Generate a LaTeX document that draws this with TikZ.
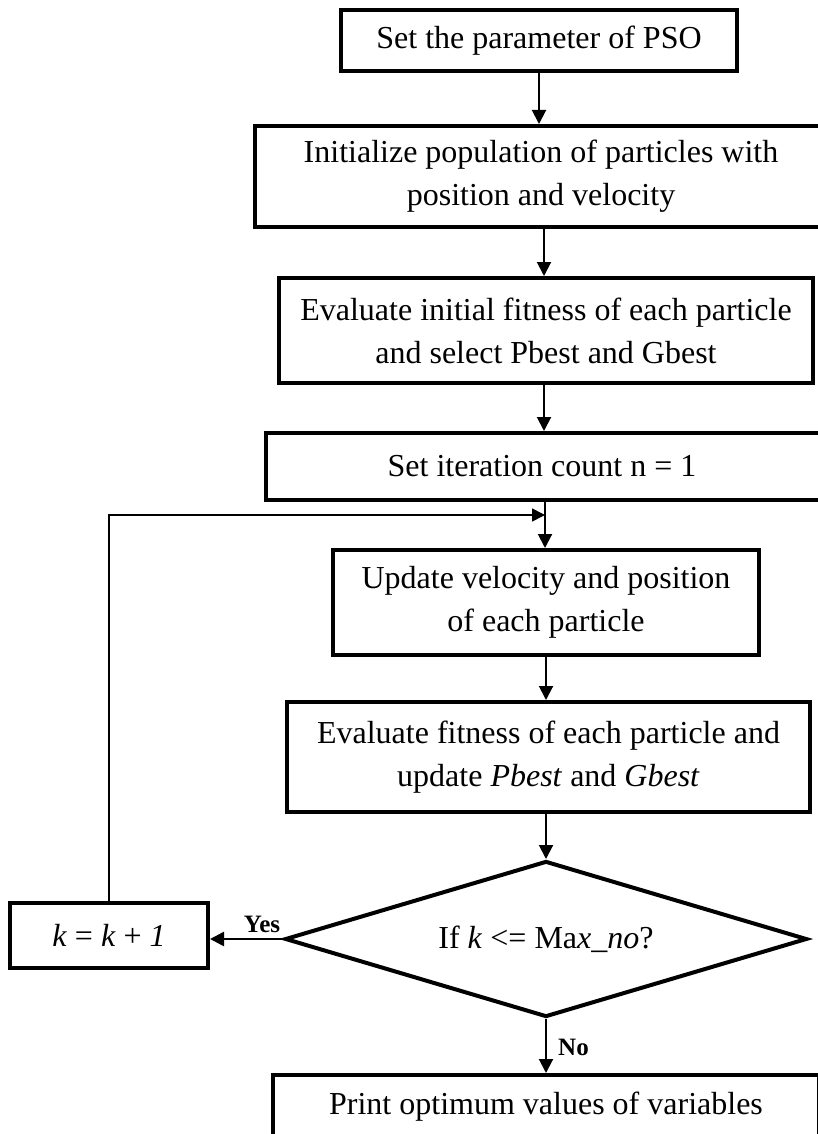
\documentclass[tikz,border=0pt]{standalone}
\usepackage{fontspec}
\setmainfont{Liberation Serif}
\usetikzlibrary{shapes.geometric,arrows.meta}
\begin{document}
\begin{tikzpicture}[x=1pt,y=-1pt,
  box/.style={draw, line width=4pt, align=center, inner sep=0pt, font=\fontsize{32}{43}\selectfont},
  dec/.style={draw, shape=diamond, aspect=3.346, line width=4pt, inner sep=0pt, font=\fontsize{32}{43}\selectfont},
  arr/.style={line width=2pt, -{Triangle[width=14pt,length=14pt]}},
  arrthin/.style={line width=1.6pt, -{Triangle[width=13pt,length=13pt]}},
  lab/.style={font=\fontsize{25}{28}\selectfont\bfseries, inner sep=0pt}]
\fill[white] (0,0) rectangle (817,1134);
\useasboundingbox (0,0) rectangle (817,1134);

\node[box, minimum width=396pt, minimum height=61pt] (b1) at (539,40.5) {Set the parameter of PSO};
\node[box, minimum width=572pt, minimum height=101pt] (b2) at (541,176.5) {Initialize population of particles with\\position and velocity};
\node[box, minimum width=534pt, minimum height=105pt] (b3) at (546,330.5) {Evaluate initial fitness of each particle\\and select Pbest and Gbest};
\node[box, minimum width=560pt, minimum height=67pt] (b4) at (546,466.5) {\hspace*{-8pt}Set iteration count n = 1};
\node[box, minimum width=426pt, minimum height=105pt] (b5) at (546,602.5) {Update velocity and position\\of each particle};
\node[box, minimum width=523pt, minimum height=110pt] (b6) at (548.5,757) {Evaluate fitness of each particle and\\update \textit{Pbest} and \textit{Gbest}};
\node[dec, minimum width=522pt, minimum height=156pt] (d) at (546,939) {If \textit{k} <= Ma\textit{x\_no}?};
\node[box, minimum width=198pt, minimum height=65pt] (k) at (109,935.5) {\textit{k} = \textit{k} + \textit{1}};
\node[box, minimum width=546pt, minimum height=64pt] (p) at (546,1107) {Print optimum values of variables};

\coordinate (a1) at (539,0);
\coordinate (a2) at (544,0);
\coordinate (a3) at (544,0);
\coordinate (a4) at (545,0);
\coordinate (a5) at (546,0);
\coordinate (a6) at (546,0);
\coordinate (j) at (545,515);

\draw[arr] (b1.south -| a1) -- (b2.north -| a1);
\draw[arr] (b2.south -| a2) -- (b3.north -| a2);
\draw[arr] (b3.south -| a3) -- (b4.north -| a3);
\draw[arr] (b4.south -| a4) -- (b5.north -| a4);
\draw[arr] (b5.south -| a5) -- (b6.north -| a5);
\draw[arr] (b6.south -| a6) -- (d.north);
\draw[arr, line width=2.5pt] (d.west) -- (d.west -| k.east);
\draw[arr] (d.south) -- (p.north);
\draw[arrthin] (k.north) |- (j);

\node[lab, anchor=south] (yes) at (262,933) {Yes};
\node[lab, anchor=west] (no) at (558,1047) {No};
\end{tikzpicture}
\end{document}
